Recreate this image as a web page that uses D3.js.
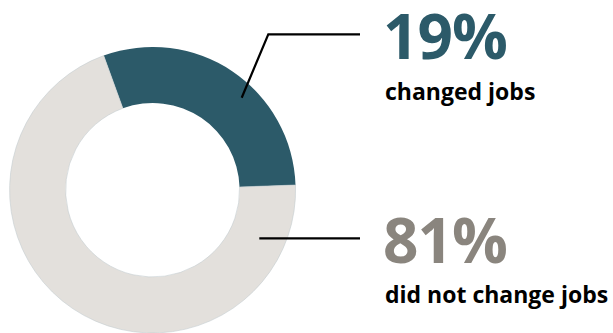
<!DOCTYPE html>
<html>
<head>
<meta charset="utf-8">
<script src="https://cdn.jsdelivr.net/npm/d3@7"></script>
<style>
  body { margin: 0; background: #fff; }
  text { font-family: "Open Sans", "Noto Sans", sans-serif; font-weight: 700; }
</style>
</head>
<body>
<script>
// groups, label values and the arc shares as drawn in the picture
var groups = ["changed jobs", "did not change jobs"];
var percents = ["19%", "81%"];
var shares = [30, 70];

var width = 613,
    height = 333;

var colors = {"changed jobs": "#2c5a69", "did not change jobs": "#e3e0dc"};
var labelColors = {"changed jobs": "#2c5a69", "did not change jobs": "#8a857e"};

var svg = d3.select("body").append("svg")
    .attr("width", width)
    .attr("height", height);

var cx = 152.6, cy = 190;

var pie = d3.pie()
    .sort(null)
    .startAngle(-20 * Math.PI / 180)
    .endAngle(340 * Math.PI / 180);

var arc = d3.arc()
    .innerRadius(87)
    .outerRadius(143);

var data = groups.map(function(g, i) { return {group: g, share: shares[i], pct: percents[i]}; });

var ring = svg.append("g")
    .attr("transform", "translate(" + cx + "," + cy + ")");

ring.selectAll("path")
    .data(pie.value(function(d) { return d.share; })(data))
    .enter()
    .append("path")
    .attr("d", arc)
    .attr("fill", function(d) { return colors[d.data.group]; })
    .attr("stroke", function(d, i) { return i === 1 ? "#c5ccd0" : "none"; })
    .attr("stroke-width", 0.6);

// leader lines
var lines = svg.append("g")
    .attr("fill", "none")
    .attr("stroke", "#000")
    .attr("stroke-width", 2.2);

lines.append("polyline")
    .attr("points", "241.7,97.7 268.3,34.3 360,34.3");
lines.append("polyline")
    .attr("points", "259.3,238.3 360,238.3");

// labels
var labelY = [59.3, 263.3];
var subY = [100, 303.3];

var labels = svg.selectAll("g.label")
    .data(data)
    .enter()
    .append("g")
    .attr("class", "label");

labels.append("text")
    .attr("x", 383)
    .attr("y", function(d, i) { return labelY[i]; })
    .attr("font-size", 62)
    .attr("letter-spacing", -1)
    .attr("fill", function(d) { return labelColors[d.group]; })
    .text(function(d) { return d.pct; });

labels.append("text")
    .attr("x", 385)
    .attr("y", function(d, i) { return subY[i]; })
    .attr("font-size", 23)
    .attr("fill", "#000")
    .text(function(d) { return d.group; });
</script>
</body>
</html>
